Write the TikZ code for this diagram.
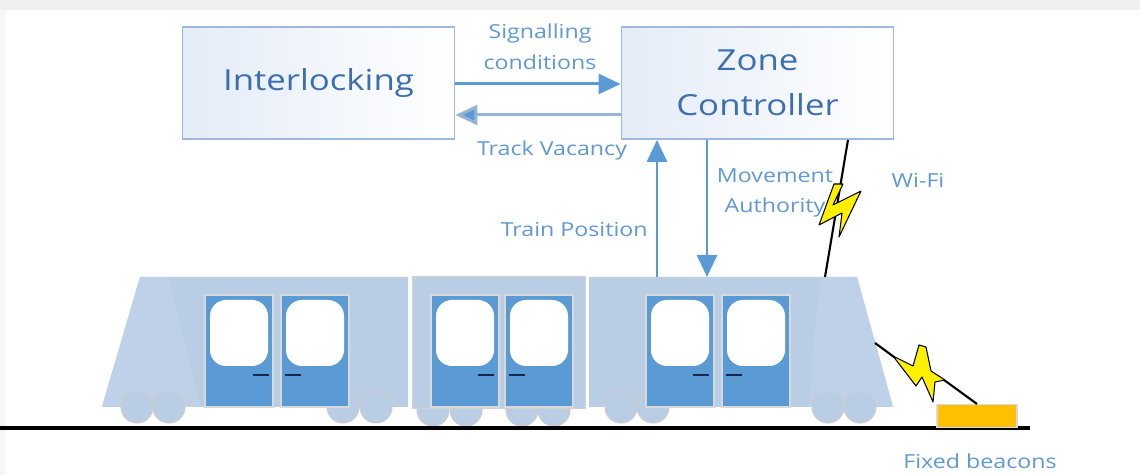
\documentclass[tikz,border=0pt]{standalone}
\usepackage{fontspec}
\setmainfont{Open Sans}[FakeStretch=1.2]
\usepackage{tikz}
\usetikzlibrary{arrows.meta, positioning, calc}
\definecolor{boxline}{RGB}{157,186,222}
\definecolor{boxfill}{RGB}{228,236,248}
\definecolor{boxtext}{RGB}{60,110,178}
\definecolor{lbltext}{RGB}{95,152,212}
\definecolor{flowblue}{RGB}{91,155,213}
\definecolor{flowgrey}{RGB}{150,180,210}
\definecolor{carbody}{RGB}{185,205,229}
\definecolor{carnose}{RGB}{191,209,232}
\definecolor{doorblue}{RGB}{91,155,213}
\definecolor{handle}{RGB}{25,40,70}
\definecolor{boltyellow}{RGB}{255,240,0}
\definecolor{beacon}{RGB}{255,192,0}
\tikzstyle{block} = [rectangle, draw=boxline, line width=1.1pt, left color=boxfill, right color=white, minimum width=5.44cm, minimum height=2.24cm, text=boxtext, font=\fontsize{16.5}{25.5}\selectfont, align=center]
\tikzstyle{lbl} = [text=lbltext, font=\fontsize{11}{17.5}\selectfont, align=center, inner sep=0pt]
\tikzstyle{flow} = [draw=flowblue, line width=1.7pt, -{Triangle[length=0.44cm, width=0.4cm]}]
\tikzstyle{wheel} = [fill=carbody, draw=black!20, line width=0.6pt]
\tikzstyle{door} = [fill=doorblue, draw=black!15, line width=0.6pt]
\tikzstyle{bolt} = [fill=boltyellow, draw=black, line width=0.6pt, line join=round]
\tikzstyle{zap} = [draw=black, line width=1.2pt]
\tikzstyle{beaconbox} = [rectangle, fill=beacon, draw=black!15, line width=0.6pt, minimum width=1.6cm, minimum height=0.46cm, inner sep=0pt]

\begin{document}
\begin{tikzpicture}[x=0.02cm, y=-0.02cm]
\useasboundingbox (0,0) rectangle (1140,475);
\fill[black!6] (0,0) rectangle (1140,10);
\fill[black!3] (0,10) rectangle (6,475);

\node (il) [block] at (318.5,83) {Interlocking};
\node (zc) [block] at (757.5,83) {Zone\\Controller};

\draw [flow] ([yshift=-0.02cm]il.east) -- ([yshift=-0.02cm]zc.west);
\draw [flow, draw=flowgrey, -{Triangle[length=0.44cm, width=0.4cm, fill=flowblue]}] ([yshift=-0.64cm]zc.west) -- ([yshift=-0.64cm]il.east);
\node (sig) [lbl] at (540,47) {Signalling\\conditions};
\node (tv) [lbl] at (552,150) {Track Vacancy};

% train
\fill[carbody] (140,277) -- (408,277) -- (408,407) -- (102,407) -- cycle;
\fill[carnose] (140,277) -- (168,277) -- (200,407) -- (102,407) -- cycle;
\foreach \wx in {433,466,522,554}
  \draw[wheel] (\wx,410) circle (0.32cm);
\draw[fill=carbody, draw=black!18, line width=0.5pt] (412,276) rectangle (585,408);
\fill[carbody] (589,277) -- (857,277) -- (893,407) -- (589,407) -- cycle;
\fill[carnose] (820,277) -- (857,277) -- (893,407) -- (808,407) -- cycle;
\foreach \wx in {137,169,343,376,621,653,828,860}
  \draw[wheel] (\wx,407) circle (0.32cm);
\foreach \dx/\hx in {205/253, 281/285, 431/478, 505/509, 646/693, 722/726} {
  \draw[door] (\dx,295) rectangle +(68,112);
  \fill[white, rounded corners=0.32cm] (\dx+5,300) rectangle (\dx+63,366);
  \draw[handle, line width=1.6pt] (\hx,375) -- +(16,0);
}

\coordinate (tp) at (657,277);
\coordinate (ma) at (707,277);
\coordinate (wifi) at (825,277);
\coordinate (nose) at (875,343);

\draw [flow] (tp) -- (tp |- zc.south);
\draw [flow] (ma |- zc.south) -- (ma);
\node (pos) [lbl, anchor=east] at (648,230) {Train Position};
\node (auth) [lbl] at (775,193) {Movement\\Authority};

% radio links
\draw [zap] ([xshift=1.81cm]zc.south) -- (wifi);
\draw [bolt] (834,184) -- (843,184) -- (833,205) -- (861,191) -- (839,237) -- (842,213) -- (819,225) -- cycle;
\node (wf) [lbl] at (918,180) {Wi-Fi};

\draw [black, line width=2pt] (0,428) -- (1030,428);
\node (bc) [beaconbox] at (977,416) {};
\node (fb) [lbl] at (980,461) {Fixed beacons};
\draw [zap] (nose) -- (894,357);
\draw [zap] (944,380) -- (bc.north);
\draw [bolt] (893,356) -- (913,366) -- (919,345) -- (926,347) -- (931,371) -- (945,380) -- (935,382) -- (933,402) -- (922,377) -- (916,386) -- cycle;
\end{tikzpicture}
\end{document}
